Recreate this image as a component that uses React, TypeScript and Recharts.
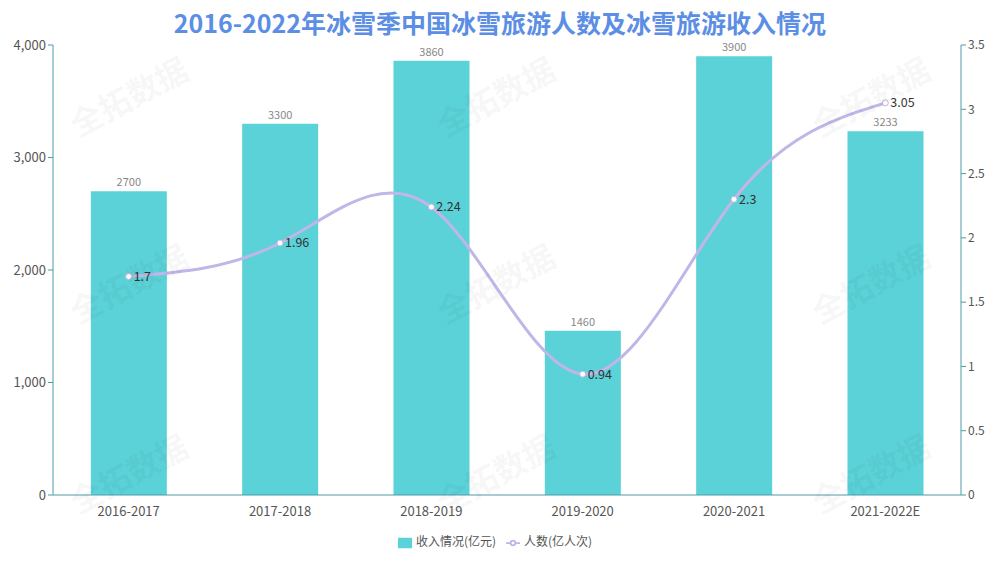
import React from "react";
import {
  ComposedChart,
  Bar,
  Line,
  XAxis,
  YAxis,
  Legend,
  LabelList,
} from "recharts";

// 雪季
const seasons = ["2016-2017", "2017-2018", "2018-2019", "2019-2020", "2020-2021", "2021-2022E"];
// 收入情况(亿元)
const revenue = [2700, 3300, 3860, 1460, 3900, 3233];
// 人数(亿人次)
const visitors = [1.7, 1.96, 2.24, 0.94, 2.3, 3.05];

const leftTicks = [0, 1000, 2000, 3000, 4000];
const rightTicks = [0, 0.5, 1, 1.5, 2, 2.5, 3, 3.5];

const data = seasons.map((s, i) => ({
  season: s,
  revenue: revenue[i],
  visitors: visitors[i],
}));

const FONT = '"Noto Sans CJK SC", "Open Sans", sans-serif';
const AXIS_COLOR = "#4f9ba6";
const legendOrder: Record<string, number> = { revenue: 0, visitors: 1 };

// 水印位置
const marks = [
  [128, 95], [128, 282], [128, 472],
  [495, 95], [495, 282], [495, 472],
  [870, 95], [870, 282], [870, 472],
];

const App: React.FC = () => {
  return (
    <div
      style={{
        position: "absolute",
        left: 0,
        top: 0,
        width: 1000,
        height: 561,
        background: "#fff",
        fontFamily: FONT,
        overflow: "hidden",
      }}
    >
      <div
        style={{
          position: "absolute",
          left: 0,
          top: 4,
          width: 1000,
          textAlign: "center",
          fontSize: 25,
          fontWeight: 700,
          color: "#5b8ee4",
          lineHeight: "36px",
        }}
      >
        2016-2022年冰雪季中国冰雪旅游人数及冰雪旅游收入情况
      </div>
      <ComposedChart
        width={1000}
        height={561}
        data={data}
        margin={{ top: 45, right: 0, left: 0, bottom: 4 }}
        barCategoryGap="25%"
      >
        <XAxis
          dataKey="season"
          tickLine={false}
          axisLine={{ stroke: AXIS_COLOR }}
          tick={{ fontSize: 13, fill: "#555", fontFamily: FONT }}
          height={32}
          tickMargin={6}
        />
        <YAxis
          yAxisId="left"
          domain={[0, 4000]}
          ticks={leftTicks}
          width={53}
          axisLine={{ stroke: AXIS_COLOR }}
          tickLine={{ stroke: AXIS_COLOR }}
          tickSize={5}
          tick={{ fontSize: 13, fill: "#555", fontFamily: FONT }}
          tickFormatter={(v: number) => v.toLocaleString("en-US")}
        />
        <YAxis
          yAxisId="right"
          orientation="right"
          domain={[0, 3.5]}
          ticks={rightTicks}
          width={39}
          axisLine={{ stroke: AXIS_COLOR }}
          tickLine={{ stroke: AXIS_COLOR }}
          tickSize={5}
          tick={{ fontSize: 12, fill: "#555", fontFamily: FONT }}
        />
        <Legend
          verticalAlign="bottom"
          height={30}
          iconSize={14}
          itemSorter={(item: any) => legendOrder[item.dataKey] ?? 0}
          wrapperStyle={{ fontSize: 12, fontFamily: FONT, color: "#555", top: 532, bottom: "auto" }}
          formatter={(value: string) => <span style={{ color: "#555" }}>{value}</span>}
        />
        <Bar
          yAxisId="left"
          dataKey="revenue"
          name="收入情况(亿元)"
          fill="#5ad2d7"
          isAnimationActive={false}
        >
          <LabelList
            dataKey="revenue"
            position="top"
            offset={5}
            style={{ fontSize: 11, fill: "#888", fontFamily: FONT }}
          />
        </Bar>
        <Line
          yAxisId="right"
          type="natural"
          dataKey="visitors"
          name="人数(亿人次)"
          stroke="#c2b5e7"
          strokeWidth={3}
          dot={{ r: 3, fill: "#fff", stroke: "#c2b5e7", strokeWidth: 1 }}
          activeDot={false}
          isAnimationActive={false}
        >
          <LabelList
            dataKey="visitors"
            position="right"
            offset={5}
            style={{ fontSize: 12.5, fill: "#333", fontFamily: FONT }}
          />
        </Line>
      </ComposedChart>
      {marks.map(([x, y], i) => (
        <div
          key={i}
          style={{
            position: "absolute",
            left: x - 75,
            top: y - 20,
            width: 150,
            textAlign: "center",
            fontSize: 32,
            fontWeight: 700,
            color: "rgba(0,0,0,0.05)",
            transform: "rotate(-28deg)",
            pointerEvents: "none",
            lineHeight: "40px",
          }}
        >
          全拓数据
        </div>
      ))}
    </div>
  );
};

export default App;
